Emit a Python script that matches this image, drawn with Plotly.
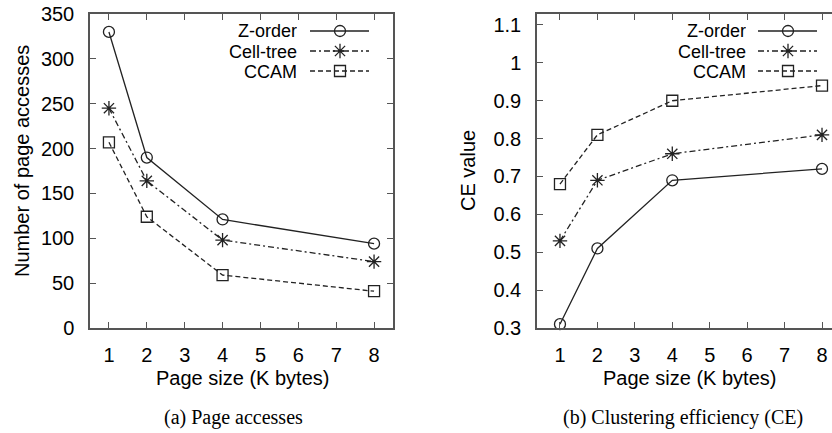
import plotly.graph_objects as go

# ---- data -------------------------------------------------------------
page_sizes = [1, 2, 4, 8]
series_names = ["Z-order", "Cell-tree", "CCAM"]

accesses_zorder = [330, 190, 121, 94]
accesses_celltree = [245, 164, 98, 74]
accesses_ccam = [207, 124, 59, 41]

ce_zorder = [0.31, 0.51, 0.69, 0.72]
ce_celltree = [0.53, 0.69, 0.76, 0.81]
ce_ccam = [0.68, 0.81, 0.90, 0.94]

x_ticks = [1, 2, 3, 4, 5, 6, 7, 8]
acc_ticks = [0, 50, 100, 150, 200, 250, 300, 350]
ce_ticks = [0.3, 0.4, 0.5, 0.6, 0.7, 0.8, 0.9, 1.0, 1.1]
ce_tick_text = ["0.3", "0.4", "0.5", "0.6", "0.7", "0.8", "0.9", "1", "1.1"]

# ---- styling ----------------------------------------------------------
W, H = 832, 433
SANS = "Liberation Sans, Arial, Helvetica, sans-serif"
SERIF = "Liberation Serif, Times New Roman, serif"
INK = "#222222"
FRAME = "#555555"

styles = {
    "Z-order": dict(dash="solid", symbol="circle-open", size=11),
    "Cell-tree": dict(dash="6px,3px,2px,3px", symbol="asterisk-open", size=12),
    "CCAM": dict(dash="5px,3px", symbol="square-open", size=11),
}


def fx(p):
    """pixel column -> paper fraction"""
    return p / W


def fy(p):
    """pixel row (from top) -> paper fraction"""
    return 1 - p / H


fig = go.Figure()

panels = [
    ("x", "y", [accesses_zorder, accesses_celltree, accesses_ccam]),
    ("x2", "y2", [ce_zorder, ce_celltree, ce_ccam]),
]
for xa, ya, values in panels:
    for name, vals in zip(series_names, values):
        st = styles[name]
        fig.add_trace(go.Scatter(
            x=page_sizes, y=vals, mode="lines+markers", name=name,
            xaxis=xa, yaxis=ya, showlegend=False, cliponaxis=False,
            line=dict(color=INK, width=1.3, dash=st["dash"]),
            marker=dict(symbol=st["symbol"], size=st["size"],
                        color=INK, line=dict(color=INK, width=1.3)),
        ))

# ---- key (text on the left, sample line + symbol on the right) --------
# drawn on a full-figure pixel axis pair (x3/y3)
key_layout = [
    # text right edge, sample start, sample end, symbol x, row y's
    (298, 310, 369, 340, [31, 51, 71]),
    (747, 758, 817, 788, [31, 51, 71]),
]
annotations = []
for text_x, x0, x1, xm, rows in key_layout:
    for name, ry in zip(series_names, rows):
        st = styles[name]
        fig.add_trace(go.Scatter(
            x=[x0, x1], y=[ry, ry], mode="lines", xaxis="x3", yaxis="y3",
            showlegend=False, hoverinfo="skip",
            line=dict(color=INK, width=1.3, dash=st["dash"]),
        ))
        fig.add_trace(go.Scatter(
            x=[xm], y=[ry], mode="markers", xaxis="x3", yaxis="y3",
            showlegend=False, hoverinfo="skip",
            marker=dict(symbol=st["symbol"], size=st["size"], color=INK,
                        line=dict(color=INK, width=1.3)),
        ))
        annotations.append(dict(
            text=name, xref="paper", yref="paper", x=fx(text_x), y=fy(ry),
            xanchor="right", yanchor="middle", showarrow=False,
            height=19, borderpad=0,
            font=dict(family=SANS, size=18, color="black"),
        ))


# ---- axis titles and captions -----------------------------------------
def label(text, x, y, angle=0, family=SANS):
    annotations.append(dict(
        text=text, xref="paper", yref="paper", x=fx(x), y=fy(y),
        xanchor="center", yanchor="middle", showarrow=False, textangle=angle,
        font=dict(family=family, size=20, color="black"),
    ))


label("Number of page accesses", 22, 161, -90)
label("CE value", 468, 171, -90)
label("Page size (K bytes)", 242, 378)
label("Page size (K bytes)", 689, 378)
label("(a) Page accesses", 233, 417, family=SERIF)
label("(b) Clustering efficiency (CE)", 683, 417, family=SERIF)

tick_font = dict(family=SANS, size=20, color="black")
common_axis = dict(
    showgrid=False, zeroline=False, showline=True, linecolor=FRAME,
    linewidth=1.5, ticks="inside", ticklen=6, tickwidth=1.2,
    tickcolor=FRAME, tickfont=tick_font, automargin=False,
)

fig.update_layout(
    template="none",
    width=W, height=H,
    margin=dict(l=0, r=0, t=0, b=0, pad=0, autoexpand=False),
    paper_bgcolor="white", plot_bgcolor="rgba(0,0,0,0)",
    font=dict(family=SANS, color="black"),
    annotations=annotations,
    xaxis=dict(domain=[fx(90), fx(393)], range=[0.5, 8.5],
               tickvals=x_ticks, mirror="ticks", anchor="y",
               ticklabelstandoff=8, **common_axis),
    yaxis=dict(domain=[fy(328), fy(14)], range=[0, 350],
               tickvals=acc_ticks, mirror="ticks", anchor="x",
               ticklabelstandoff=10, **common_axis),
    xaxis2=dict(domain=[fx(537), 1.0], range=[0.386, 8.267],
                tickvals=x_ticks, mirror="ticks", anchor="y2",
                ticklabelstandoff=8, **common_axis),
    yaxis2=dict(domain=[fy(328), fy(14)], range=[0.3, 1.129],
                tickvals=ce_ticks, ticktext=ce_tick_text, mirror=False,
                anchor="x2", ticklabelstandoff=10, **common_axis),
    xaxis3=dict(domain=[0, 1], range=[0, W], visible=False, anchor="y3",
                automargin=False, fixedrange=True),
    yaxis3=dict(domain=[0, 1], range=[H, 0], visible=False, anchor="x3",
                automargin=False, fixedrange=True),
)

fig.write_html("out.html")
